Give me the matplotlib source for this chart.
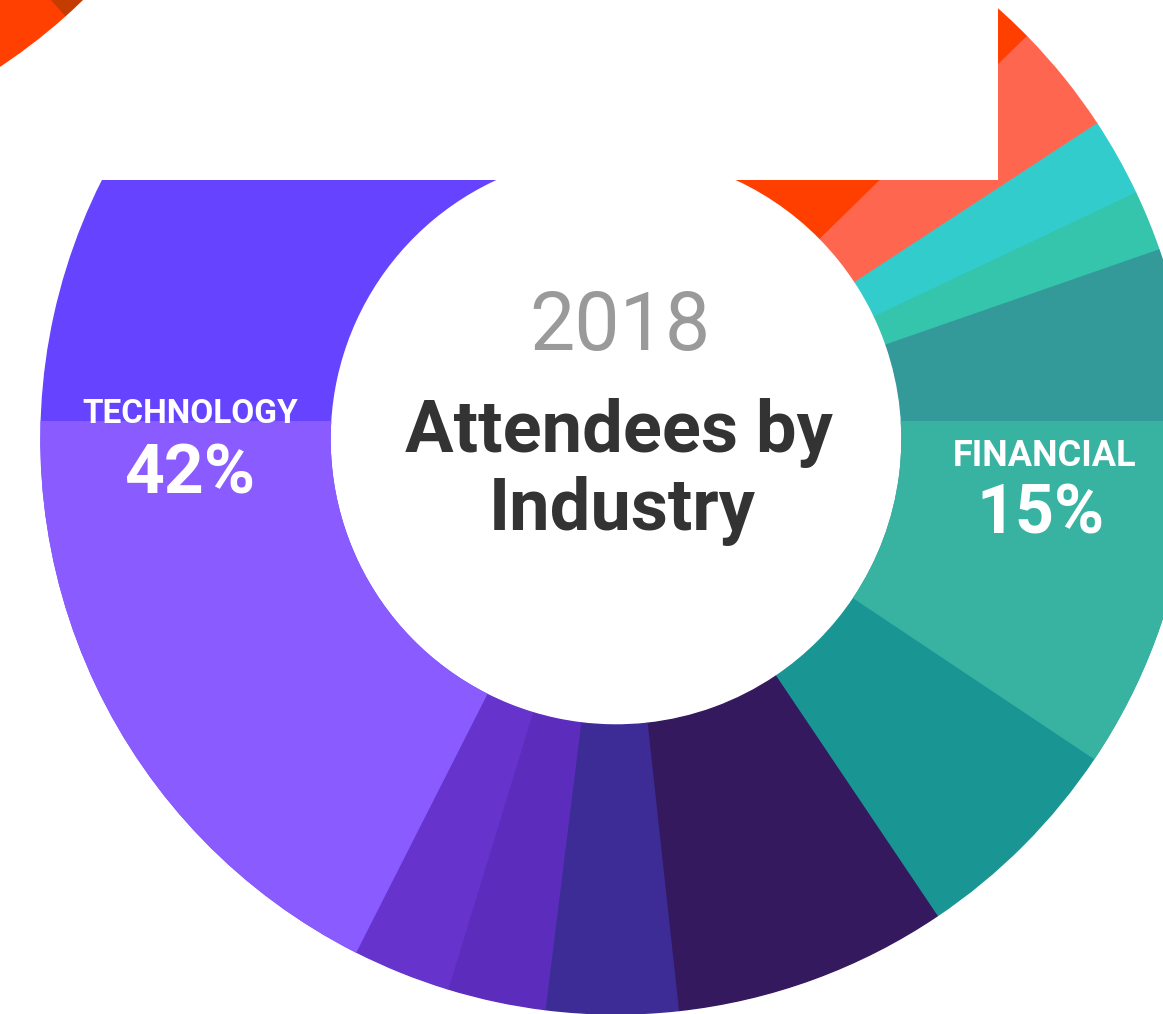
import matplotlib
matplotlib.use("Agg")
import matplotlib.pyplot as plt
from matplotlib.patches import Rectangle

plt.rcParams["font.family"] = ["Roboto", "DejaVu Sans"]

# segment shares (percent), clockwise from the top of the ring
segments = ["Other A", "Other B", "Other C", "Other D", "Financial", "Other E",
            "Other F", "Other G", "Other H", "Other I", "Technology"]
shares = [13.2, 3.1, 2.2, 1.7, 14.7, 6.2, 7.7, 3.7, 2.75, 2.75, 42.0]
colors = ["#ff3f00", "#ff6650", "#33cccc", "#35c4ac", "#339999", "#199693",
          "#34195e", "#3d2b96", "#5c2cbc", "#6633cc", "#6644ff"]
# lower half of the two big segments is drawn lighter
lower_colors = {"Financial": "#38b3a2", "Technology": "#8a5cff"}

# piece of a neighbouring ring peeking in at the top-left corner
frag_shares = [8.0, 10.0, 82.0]
frag_colors = ["#c43c00", "#ff4000", "none"]

W, H = 1163, 1014
cx, cy = 616, H - 439
r_out, r_in = 575, 286
split_y = H - 421

fig = plt.figure(figsize=(W / 100, H / 100), dpi=100)
ax = fig.add_axes([0, 0, 1, 1])
ax.set_xlim(0, W)
ax.set_ylim(0, H)
ax.set_aspect("equal")
ax.axis("off")


def ring(ax, vals, cols, center, start):
    wedges, _ = ax.pie(vals, colors=cols, startangle=start, counterclock=False,
                       center=center, radius=r_out, frame=True,
                       wedgeprops=dict(width=r_out - r_in, linewidth=1))
    for w, c in zip(wedges, cols):
        w.set_edgecolor(c)
    return wedges


ring(ax, shares, colors, (cx, cy), 91.9)

# lighter lower parts, clipped below the split line
low = [lower_colors.get(s, "none") for s in segments]
clip = Rectangle((0, 0), W, split_y, transform=ax.transData)
for w, s in zip(ring(ax, shares, low, (cx, cy), 91.9), segments):
    if s in lower_colors:
        w.set_clip_on(True)  # pie turns clipping off for its wedges
        w.set_clip_path(clip.get_path(), clip.get_transform())
    else:
        w.set_visible(False)

ring(ax, frag_shares, frag_colors, (-318, H + 413), -19.5)

# white panel covering the top of the ring
ax.add_patch(Rectangle((90, H - 180), 998 - 90, 180, facecolor="white",
                       edgecolor="none", zorder=5))

ax.text(620, H - 350, "2018", ha="center", va="baseline", fontsize=58,
        color="#9a9a9a", fontweight="normal", zorder=6)
ax.text(619, H - 452, "Attendees by", ha="center", va="baseline", fontsize=52,
        color="#333333", fontweight="bold", zorder=6)
ax.text(622, H - 530, "Industry", ha="center", va="baseline", fontsize=52,
        color="#333333", fontweight="bold", zorder=6)

ax.text(190, H - 423, "TECHNOLOGY", ha="center", va="baseline", fontsize=24,
        color="white", fontweight="bold", zorder=6)
ax.text(190, H - 493, "42%", ha="center", va="baseline", fontsize=50,
        color="white", fontweight="bold", zorder=6)
ax.text(1045, H - 466, "FINANCIAL", ha="center", va="baseline", fontsize=26,
        color="white", fontweight="bold", zorder=6)
ax.text(1040, H - 533, "15%", ha="center", va="baseline", fontsize=49,
        color="white", fontweight="bold", zorder=6)

ax.set_xlim(0, W)
ax.set_ylim(0, H)

fig.savefig("out.png", dpi=100, facecolor="white")
